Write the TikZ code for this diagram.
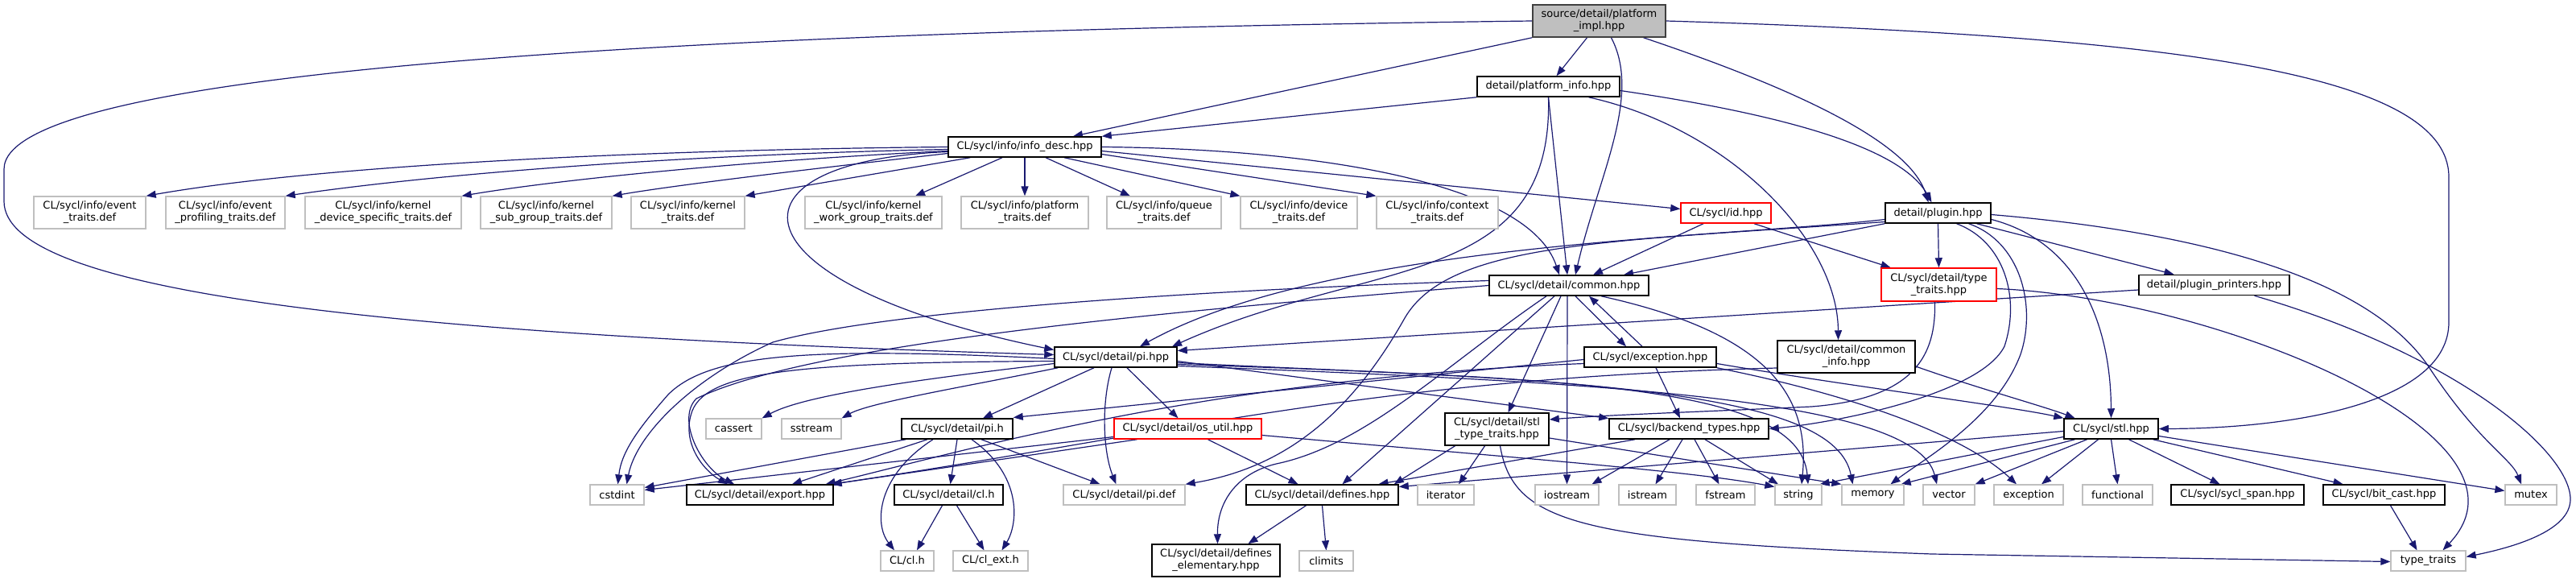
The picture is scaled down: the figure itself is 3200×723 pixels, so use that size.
\documentclass[tikz,border=0pt]{standalone}
\usepackage{fontspec}
\setmainfont{DejaVu Sans}
\usetikzlibrary{arrows.meta}
\definecolor{edgeblue}{HTML}{191970}
\definecolor{extgray}{HTML}{BFBFBF}
\definecolor{truncred}{HTML}{FF0000}
\definecolor{rootedge}{HTML}{404040}
\pgfdeclarelayer{back}
\pgfsetlayers{back,main}
\newcommand{\depfont}{\fontsize{13}{15}\selectfont}
\tikzset{
  basenode/.style={rectangle,draw,fill=white,line width=1.5pt,inner sep=2pt,
    minimum height=25,align=center,font=\depfont},
  docnode/.style={basenode,draw=black},
  extnode/.style={basenode,draw=extgray,line width=1.3pt},
  truncnode/.style={basenode,draw=truncred},
  rootnode/.style={basenode,draw=rootedge,fill=extgray},
  dep/.style={->,draw=edgeblue,line width=1.2pt}
}
\begin{document}
\begin{tikzpicture}[x=1pt,y=-1pt,>={Triangle[length=12pt,width=9pt]}]
  \useasboundingbox (0,0) rectangle (3200,723);
  \node[rootnode,minimum width=165,minimum height=40] (impl) at (1986.5,26) {source/detail/platform\\\_impl.hpp};
  \node[docnode,minimum width=177] (pinfo) at (1923.5,107.5) {detail/platform\_info.hpp};
  \node[docnode,minimum width=190] (desc) at (1273,182.5) {CL/sycl/info/info\_desc.hpp};
  \node[extnode,minimum width=139,minimum height=40] (evt) at (111.5,264) {CL/sycl/info/event\\\_traits.def};
  \node[extnode,minimum width=148,minimum height=40] (evprof) at (280,264) {CL/sycl/info/event\\\_profiling\_traits.def};
  \node[extnode,minimum width=194,minimum height=40] (kdev) at (476,264) {CL/sycl/info/kernel\\\_device\_specific\_traits.def};
  \node[extnode,minimum width=163,minimum height=40] (ksub) at (678.5,264) {CL/sycl/info/kernel\\\_sub\_group\_traits.def};
  \node[extnode,minimum width=141,minimum height=40] (ktr) at (854.5,264) {CL/sycl/info/kernel\\\_traits.def};
  \node[extnode,minimum width=170,minimum height=40] (kwg) at (1085,264) {CL/sycl/info/kernel\\\_work\_group\_traits.def};
  \node[extnode,minimum width=158,minimum height=40] (ptr) at (1273,264) {CL/sycl/info/platform\\\_traits.def};
  \node[extnode,minimum width=142,minimum height=40] (qtr) at (1446,264) {CL/sycl/info/queue\\\_traits.def};
  \node[extnode,minimum width=145,minimum height=40] (dtr) at (1613.5,264) {CL/sycl/info/device\\\_traits.def};
  \node[extnode,minimum width=151,minimum height=40] (ctx) at (1785.5,264) {CL/sycl/info/context\\\_traits.def};
  \node[truncnode,minimum width=112] (id) at (2144,264.5) {CL/sycl/id.hpp};
  \node[docnode,minimum width=131] (plugin) at (2407.5,264.5) {detail/plugin.hpp};
  \node[docnode,minimum width=198] (common) at (1949,354.5) {CL/sycl/detail/common.hpp};
  \node[truncnode,minimum width=143,minimum height=41] (tt) at (2408.5,353.5) {CL/sycl/detail/type\\\_traits.hpp};
  \node[docnode,minimum width=187] (printers) at (2750.5,354) {detail/plugin\_printers.hpp};
  \node[docnode,minimum width=152] (pihpp) at (1386,443.5) {CL/sycl/detail/pi.hpp};
  \node[docnode,minimum width=164] (exc) at (2050,443.5) {CL/sycl/exception.hpp};
  \node[docnode,minimum width=171,minimum height=40] (cinfo) at (2293.5,443) {CL/sycl/detail/common\\\_info.hpp};
  \node[extnode,minimum width=69] (cassert) at (911.5,532.5) {cassert};
  \node[extnode,minimum width=74] (sstream) at (1008,532.5) {sstream};
  \node[docnode,minimum width=138] (pih) at (1189,532.5) {CL/sycl/detail/pi.h};
  \node[truncnode,minimum width=183] (osutil) at (1475.5,532.5) {CL/sycl/detail/os\_util.hpp};
  \node[docnode,minimum width=129,minimum height=40] (stltt) at (1859.5,533) {CL/sycl/detail/stl\\\_type\_traits.hpp};
  \node[docnode,minimum width=198] (backend) at (2098,532.5) {CL/sycl/backend\_types.hpp};
  \node[docnode,minimum width=117] (stl) at (2622.5,532.5) {CL/sycl/stl.hpp};
  \node[extnode,minimum width=67] (cstdint) at (766.5,614.5) {cstdint};
  \node[docnode,minimum width=182] (export) at (944,614.5) {CL/sycl/detail/export.hpp};
  \node[docnode,minimum width=135] (clh) at (1178.5,614.5) {CL/sycl/detail/cl.h};
  \node[extnode,minimum width=151] (pidef) at (1396.5,614.5) {CL/sycl/detail/pi.def};
  \node[docnode,minimum width=189] (defines) at (1642.5,614.5) {CL/sycl/detail/defines.hpp};
  \node[extnode,minimum width=70] (iterator) at (1796,614.5) {iterator};
  \node[extnode,minimum width=79] (iostream) at (1946.5,614.5) {iostream};
  \node[extnode,minimum width=71] (istream) at (2046.5,614.5) {istream};
  \node[extnode,minimum width=73] (fstream) at (2143.5,614.5) {fstream};
  \node[extnode,minimum width=58] (string) at (2234,614.5) {string};
  \node[extnode,minimum width=77] (memory) at (2326.5,614.5) {memory};
  \node[extnode,minimum width=64] (vector) at (2421,614.5) {vector};
  \node[extnode,minimum width=86] (stdexc) at (2520,614.5) {exception};
  \node[extnode,minimum width=87] (functional) at (2630.5,614.5) {functional};
  \node[docnode,minimum width=165] (span) at (2779.5,614.5) {CL/sycl/sycl\_span.hpp};
  \node[docnode,minimum width=151] (bitcast) at (2961.5,614.5) {CL/sycl/bit\_cast.hpp};
  \node[extnode,minimum width=64] (mutex) at (3144,614.5) {mutex};
  \node[extnode,minimum width=66] (clcl) at (1127,696.5) {CL/cl.h};
  \node[extnode,minimum width=93] (clext) at (1230.5,696.5) {CL/cl\_ext.h};
  \node[docnode,minimum width=159,minimum height=40] (defel) at (1510.5,696) {CL/sycl/detail/defines\\\_elementary.hpp};
  \node[extnode,minimum width=67] (climits) at (1647.5,696.5) {climits};
  \node[extnode,minimum width=93] (stdtt) at (3016.5,696.5) {type\_traits};
  \begin{pgfonlayer}{back}
  \draw[dep] (impl.west) .. controls (800,40) and (5,90) .. (5,210) -- (5,250) .. controls (5,360) and (450,415) .. ([yshift=3]pihpp.west);
  \draw[dep] (impl.south west) -- ([xshift=60]desc.north);
  \draw[dep] ([xshift=-15]impl.south) -- ([xshift=10]pinfo.north);
  \draw[dep] ([xshift=15]impl.south) .. controls (2040,120) and (1985,220) .. ([xshift=8]common.north);
  \draw[dep] ([xshift=55]impl.south) .. controls (2200,100) and (2370,170) .. ([xshift=-12]plugin.north);
  \draw[dep] (impl.east) .. controls (2700,45) and (3042,90) .. (3042,220) -- (3042,400) .. controls (3042,500) and (2850,532) .. (stl.east);
  \draw[dep] (pinfo.south west) -- (desc.north east);
  \draw[dep] (pinfo.south) -- ([xshift=-2]common.north);
  \draw[dep] (pinfo.south) .. controls (1930,360) and (1700,320) .. ([xshift=70]pihpp.north);
  \draw[dep] ([xshift=50]pinfo.south) .. controls (2150,160) and (2283,300) .. ([xshift=-10]cinfo.north);
  \draw[dep] ([yshift=-5]pinfo.east) .. controls (2200,140) and (2360,180) .. ([xshift=-8]plugin.north);
  \draw[dep] (desc.west) .. controls (800,186) and (400,205) .. (evt.north east);
  \draw[dep] ([yshift=-3]desc.west) .. controls (850,192) and (550,215) .. (evprof.north east);
  \draw[dep] ([yshift=-5]desc.west) .. controls (950,198) and (700,222) .. (kdev.north east);
  \draw[dep] ([yshift=-8]desc.west) .. controls (1050,205) and (850,228) .. (ksub.north east);
  \draw[dep] ([xshift=28]desc.south west) -- (ktr.north east);
  \draw[dep] ([xshift=-28]desc.south) -- ([xshift=52]kwg.north);
  \draw[dep] (desc.south) -- (ptr.north);
  \draw[dep] ([xshift=26]desc.south) -- ([xshift=-42]qtr.north);
  \draw[dep] ([xshift=49]desc.south) -- (dtr.north west);
  \draw[dep] ([yshift=-9]desc.east) -- (ctx.north west);
  \draw[dep] ([yshift=-5]desc.east) -- ([yshift=5]id.west);
  \draw[dep] (desc.east) .. controls (1650,185) and (1900,230) .. ([xshift=-12]common.north);
  \draw[dep] ([yshift=-6]desc.west) .. controls (890,200) and (900,350) .. ([yshift=9]pihpp.west);
  \draw[dep] ([xshift=-28]id.south) -- ([xshift=30]common.north);
  \draw[dep] ([xshift=35]id.south) -- ([xshift=-60]tt.north);
  \draw[dep] (plugin.south) -- (tt.north);
  \draw[dep] (plugin.south west) -- ([xshift=68]common.north);
  \draw[dep] ([yshift=-8]plugin.west) .. controls (2150,295) and (1650,300) .. ([xshift=30]pihpp.north);
  \draw[dep] ([yshift=-11]plugin.west) .. controls (2000,300) and (1800,300) .. (1745,395) .. controls (1680,510) and (1600,580) .. (pidef.north east);
  \draw[dep] ([xshift=23]plugin.south) .. controls (2490,300) and (2510,370) .. (2490,430) .. controls (2460,490) and (2280,525) .. (backend.east);
  \draw[dep] ([xshift=38]plugin.south) .. controls (2510,300) and (2530,380) .. (2510,440) .. controls (2480,520) and (2390,570) .. ([xshift=22]memory.north);
  \draw[dep] ([yshift=-8]plugin.east) .. controls (2580,300) and (2622,400) .. (stl.north);
  \draw[dep] ([xshift=48]plugin.south) -- ([xshift=-50]printers.north);
  \draw[dep] ([yshift=-2]plugin.east) .. controls (2750,290) and (2950,350) .. (3020,460) .. controls (3080,550) and (3120,570) .. ([xshift=-12]mutex.north);
  \draw[dep] ([yshift=-6]printers.west) -- ([yshift=8]pihpp.east);
  \draw[dep] ([xshift=50]printers.south) .. controls (3050,440) and (3193,560) .. (3193,620) .. controls (3193,660) and (3120,680) .. ([yshift=5]stdtt.east);
  \draw[dep] ([xshift=-5]tt.south) .. controls (2405,440) and (2380,495) .. (2250,505) .. controls (2100,512) and (2000,515) .. ([yshift=12]stltt.east);
  \draw[dep] ([yshift=-5]tt.east) .. controls (2750,370) and (3170,540) .. ([xshift=18]stdtt.north);
  \draw[dep] ([xshift=8]common.south) -- ([xshift=-30]exc.north);
  \draw[dep] ([xshift=-10]common.south) -- ([xshift=14]stltt.north);
  \draw[dep] ([xshift=-2]common.south) -- (iostream.north);
  \draw[dep] ([xshift=40]common.south) .. controls (2180,410) and (2250,480) .. ([xshift=4]string.north);
  \draw[dep] ([xshift=-18]common.south) -- ([xshift=25]defines.north);
  \draw[dep] ([xshift=-28]common.south) .. controls (1800,450) and (1700,550) .. (1590,575) .. controls (1540,585) and (1512,620) .. ([xshift=2]defel.north);
  \draw[dep] ([yshift=6]common.west) .. controls (1500,360) and (1100,385) .. (960,425) .. controls (860,470) and (790,540) .. ([xshift=12]cstdint.north);
  \draw[dep] (common.west) .. controls (1400,390) and (1000,430) .. (865,495) .. controls (840,520) and (870,580) .. ([xshift=-32]export.north);
  \draw[dep] ([xshift=-10]exc.north) -- ([xshift=25]common.south);
  \draw[dep] ([xshift=7]exc.south) -- ([xshift=-11]backend.north);
  \draw[dep] ([yshift=-3]exc.west) -- ([yshift=14]pih.east);
  \draw[dep] ([yshift=-8]exc.west) .. controls (1500,470) and (1200,560) .. ([xshift=-10]export.north east);
  \draw[dep] ([yshift=-8]exc.east) .. controls (2300,480) and (2500,505) .. (stl.north west);
  \draw[dep] (exc.south east) .. controls (2300,490) and (2440,540) .. ([xshift=-15]stdexc.north);
  \draw[dep] ([yshift=-14]cinfo.west) .. controls (1700,470) and (1450,540) .. ([xshift=-3]export.north east);
  \draw[dep] ([yshift=-12]cinfo.east) .. controls (2450,480) and (2540,505) .. ([xshift=-45]stl.north);
  \draw[dep] ([xshift=-27]pihpp.south) -- ([xshift=32]pih.north);
  \draw[dep] ([xshift=-5]pihpp.south) .. controls (1368,500) and (1370,560) .. ([xshift=-10]pidef.north);
  \draw[dep] ([xshift=14]pihpp.south) -- ([xshift=-12]osutil.north);
  \draw[dep] ([yshift=-8]pihpp.west) .. controls (1150,470) and (1000,490) .. (cassert.north east);
  \draw[dep] ([xshift=5]pihpp.south west) .. controls (1200,480) and (1080,500) .. (sstream.north east);
  \draw[dep] ([yshift=-5]pihpp.west) .. controls (1000,450) and (880,460) .. (860,510) .. controls (845,550) and (875,585) .. ([xshift=-40]export.north);
  \draw[dep] ([yshift=-2]pihpp.west) .. controls (1000,430) and (880,440) .. (830,490) .. controls (795,530) and (772,560) .. ([xshift=1]cstdint.north);
  \draw[dep] ([yshift=-5]pihpp.east) -- ([yshift=13]backend.west);
  \draw[dep] ([yshift=-7]pihpp.east) .. controls (1900,472) and (2235,470) .. ([xshift=12]string.north);
  \draw[dep] ([yshift=-9]pihpp.east) .. controls (2000,470) and (2280,490) .. ([xshift=-25]memory.north);
  \draw[dep] ([yshift=-11]pihpp.east) .. controls (2000,475) and (2380,495) .. ([xshift=-15]vector.north);
  \draw[dep] ([xshift=6]pih.south west) -- ([yshift=9]cstdint.east);
  \draw[dep] ([xshift=-37]pih.south) -- ([xshift=40]export.north);
  \draw[dep] (pih.south) -- ([xshift=2]clh.north);
  \draw[dep] ([xshift=-30]pih.south) .. controls (1090,590) and (1085,650) .. ([xshift=-16]clcl.north);
  \draw[dep] ([xshift=18]pih.south) .. controls (1270,590) and (1265,650) .. ([xshift=14]clext.north);
  \draw[dep] ([xshift=30]pih.south) -- ([xshift=-30]pidef.north);
  \draw[dep] ([xshift=-8]clh.south) -- ([xshift=12]clcl.north);
  \draw[dep] ([xshift=10]clh.south) -- ([xshift=-8]clext.north);
  \draw[dep] ([yshift=-10]osutil.west) -- ([yshift=6]cstdint.east);
  \draw[dep] ([xshift=-63]osutil.south) -- ([xshift=-2]export.north east);
  \draw[dep] ([xshift=25]osutil.south) -- ([xshift=-30]defines.north);
  \draw[dep] ([yshift=-8]osutil.east) .. controls (1900,570) and (2100,585) .. ([yshift=10]string.west);
  \draw[dep] ([xshift=-52]stltt.south) -- ([xshift=-6]defines.north east);
  \draw[dep] ([xshift=-15]stltt.south) -- ([xshift=16]iterator.north);
  \draw[dep] ([xshift=4]stltt.south) .. controls (1880,650) and (1960,672) .. (2400,688) -- ([yshift=-1]stdtt.west);
  \draw[dep] ([yshift=-11]stltt.east) -- (memory.north west);
  \draw[dep] ([xshift=-67]backend.south) -- ([xshift=70]defines.north);
  \draw[dep] ([xshift=-24]backend.south) -- ([xshift=31]iostream.north);
  \draw[dep] ([xshift=-8]backend.south) -- ([xshift=10]istream.north);
  \draw[dep] ([xshift=7]backend.south) -- ([xshift=-8]fstream.north);
  \draw[dep] ([xshift=20]backend.south) -- ([xshift=-25]string.north);
  \draw[dep] ([yshift=-3]stl.west) -- ([yshift=10]defines.east);
  \draw[dep] ([yshift=-10]stl.west) -- ([xshift=-3]string.north east);
  \draw[dep] ([xshift=-45]stl.south) -- ([xshift=-4]memory.north east);
  \draw[dep] ([xshift=-30]stl.south) -- (vector.north east);
  \draw[dep] ([xshift=-16]stl.south) -- ([xshift=16]stdexc.north);
  \draw[dep] (stl.south) -- (functional.north);
  \draw[dep] ([xshift=22]stl.south) -- ([xshift=-22]span.north);
  \draw[dep] ([xshift=52]stl.south) -- ([xshift=-51]bitcast.north);
  \draw[dep] ([yshift=-9]stl.east) -- ([yshift=5]mutex.west);
  \draw[dep] ([xshift=8]bitcast.south) -- ([xshift=-14]stdtt.north);
  \draw[dep] ([xshift=-20]defines.south) -- ([xshift=40]defel.north);
  \draw[dep] (defines.south) -- (climits.north);
  \end{pgfonlayer}
\end{tikzpicture}
\end{document}
